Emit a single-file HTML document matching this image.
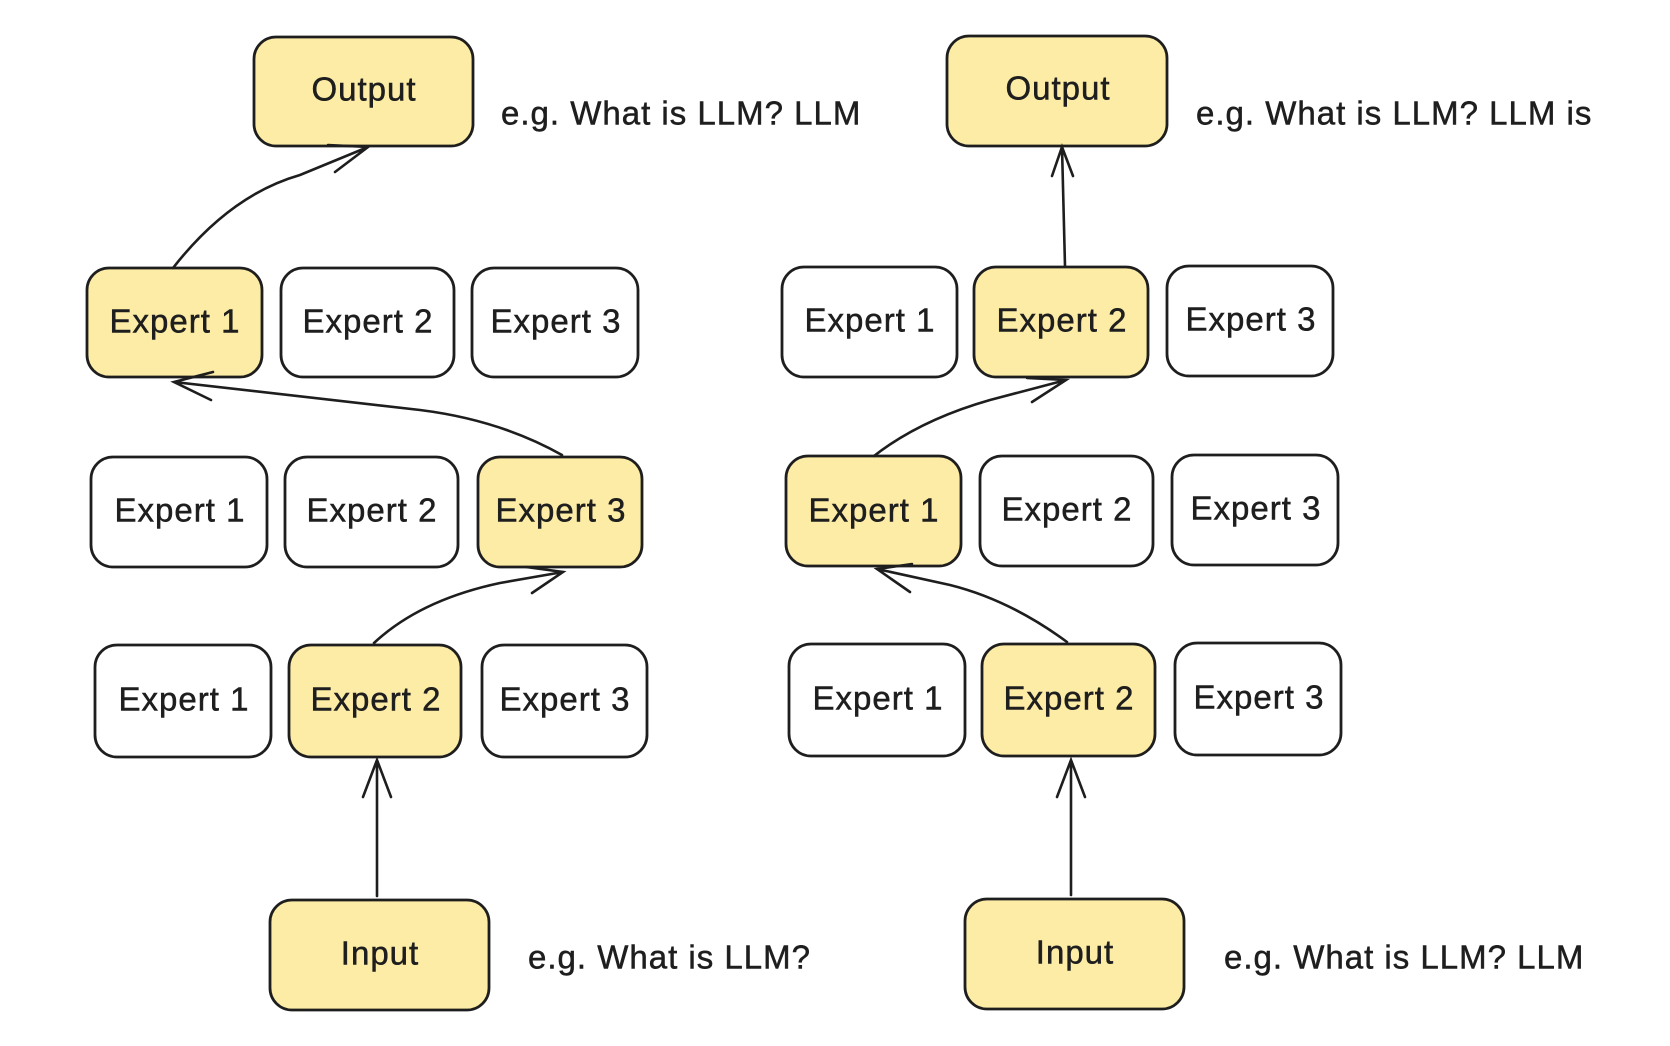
<!DOCTYPE html>
<html><head><meta charset="utf-8"><style>html,body{margin:0;padding:0;background:#fff}svg{display:block}</style></head>
<body>
<svg width="1670" height="1046" viewBox="0 0 1670 1046" xmlns="http://www.w3.org/2000/svg" font-family="'Liberation Sans', sans-serif" fill="none">
<defs><style>
.b{stroke:#1e1e1e;stroke-width:2.8}
.y{fill:#fdeca6}.w{fill:#fff}
.t{fill:#1e1e1e;stroke:#1e1e1e;stroke-width:0.5;font-size:33px;text-anchor:middle;dominant-baseline:central;letter-spacing:1px}
.n{fill:#1e1e1e;stroke:#1e1e1e;stroke-width:0.5;font-size:33px;dominant-baseline:central;letter-spacing:1px}
.a{stroke:#1e1e1e;stroke-width:2.6;fill:none;stroke-linecap:round}
</style></defs>
<!-- LEFT -->
<rect class="b y" x="254" y="37" width="219" height="109" rx="22"/><text class="t" x="364" y="89">Output</text>
<text class="n" x="501" y="113">e.g. What is LLM? LLM</text>
<rect class="b y" x="87" y="268" width="175" height="109" rx="22"/><text class="t" x="175" y="321">Expert 1</text>
<rect class="b w" x="281" y="268" width="173" height="109" rx="22"/><text class="t" x="368" y="321">Expert 2</text>
<rect class="b w" x="472" y="268" width="166" height="109" rx="22"/><text class="t" x="556" y="321">Expert 3</text>
<rect class="b w" x="91" y="457" width="176" height="110" rx="22"/><text class="t" x="180" y="510">Expert 1</text>
<rect class="b w" x="285" y="457" width="173" height="110" rx="22"/><text class="t" x="372" y="510">Expert 2</text>
<rect class="b y" x="478" y="457" width="164" height="110" rx="22"/><text class="t" x="561" y="510">Expert 3</text>
<rect class="b w" x="95" y="645" width="176" height="112" rx="22"/><text class="t" x="184" y="699">Expert 1</text>
<rect class="b y" x="289" y="645" width="172" height="112" rx="22"/><text class="t" x="376" y="699">Expert 2</text>
<rect class="b w" x="482" y="645" width="165" height="112" rx="22"/><text class="t" x="565" y="699">Expert 3</text>
<rect class="b y" x="270" y="900" width="219" height="110" rx="22"/><text class="t" x="380" y="953">Input</text>
<text class="n" x="528" y="957">e.g. What is LLM?</text>
<path class="a" d="M377 896 L377 760 M363 797 L377 760 L391 797"/>
<path class="a" d="M374 643 Q420 600 500 583 L563 572 M532 593 L563 572 L526 567"/>
<path class="a" d="M562 455 Q500 420 420 410 L174 382 M211 400 L174 382 L213 372"/>
<path class="a" d="M173 268 Q230 195 300 175 L368 147 M335 172 L368 147 L328 145"/>
<!-- RIGHT -->
<rect class="b y" x="947" y="36" width="220" height="110" rx="22"/><text class="t" x="1058" y="88">Output</text>
<text class="n" x="1196" y="113">e.g. What is LLM? LLM is</text>
<rect class="b w" x="782" y="267" width="175" height="110" rx="22"/><text class="t" x="870" y="320">Expert 1</text>
<rect class="b y" x="974" y="267" width="174" height="110" rx="22"/><text class="t" x="1062" y="320">Expert 2</text>
<rect class="b w" x="1167" y="266" width="166" height="110" rx="22"/><text class="t" x="1251" y="319">Expert 3</text>
<rect class="b y" x="786" y="456" width="175" height="110" rx="22"/><text class="t" x="874" y="510">Expert 1</text>
<rect class="b w" x="980" y="456" width="173" height="110" rx="22"/><text class="t" x="1067" y="509">Expert 2</text>
<rect class="b w" x="1172" y="455" width="166" height="110" rx="22"/><text class="t" x="1256" y="508">Expert 3</text>
<rect class="b w" x="789" y="644" width="176" height="112" rx="22"/><text class="t" x="878" y="698">Expert 1</text>
<rect class="b y" x="982" y="644" width="173" height="112" rx="22"/><text class="t" x="1069" y="698">Expert 2</text>
<rect class="b w" x="1175" y="643" width="166" height="112" rx="22"/><text class="t" x="1259" y="697">Expert 3</text>
<rect class="b y" x="965" y="899" width="219" height="110" rx="22"/><text class="t" x="1075" y="952">Input</text>
<text class="n" x="1224" y="957">e.g. What is LLM? LLM</text>
<path class="a" d="M1071 895 L1071 760 M1057 797 L1071 760 L1085 797"/>
<path class="a" d="M1067 642 Q1010 600 950 585 L877 569 M910 592 L877 569 L912 564"/>
<path class="a" d="M874 456 Q920 420 990 400 L1066 380 M1032 402 L1066 380 L1027 378"/>
<path class="a" d="M1065 266 L1062 147 M1052 176 L1062 147 L1073 176"/>
</svg>
</body></html>
